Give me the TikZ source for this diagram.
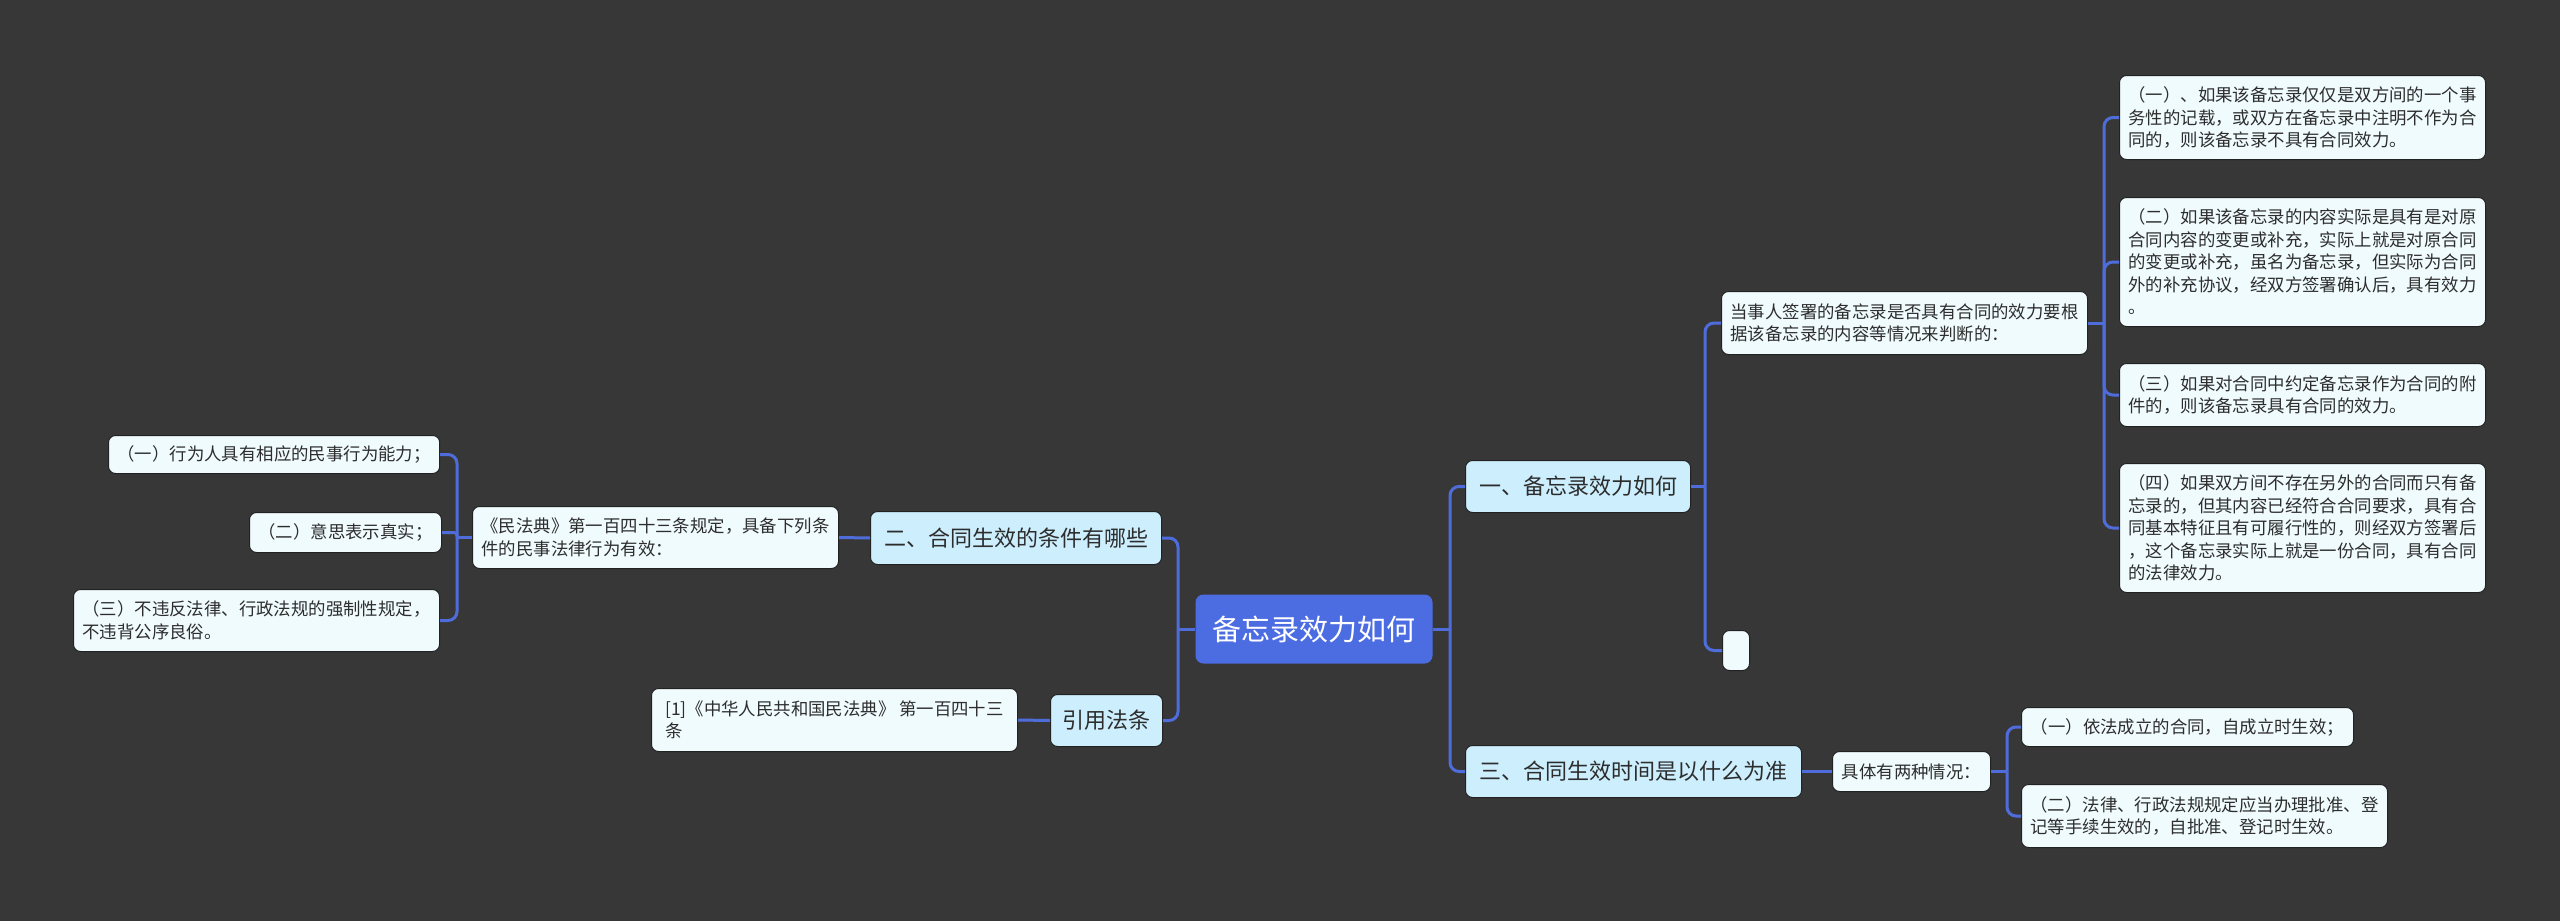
\documentclass[tikz,border=0pt]{standalone}
\usepackage{fontspec}
\setmainfont{Noto Sans CJK SC}
\definecolor{bg}{RGB}{56,55,56}
\definecolor{rootfill}{RGB}{76,108,226}
\definecolor{subfill}{RGB}{204,238,253}
\definecolor{leaffill}{RGB}{240,251,254}
\definecolor{linec}{RGB}{78,108,218}
\definecolor{edgec}{RGB}{34,34,34}
\definecolor{txt}{RGB}{45,45,45}
\tikzset{
  box/.style={draw=edgec, line width=1pt, rounded corners=7pt, inner xsep=9pt, inner ysep=0pt,
    anchor=north west, align=left, text=txt, font=\fontsize{17.4}{22.5}\selectfont},
  leaf/.style={box, fill=leaffill},
  sub/.style={box, fill=subfill, inner xsep=12pt, font=\fontsize{22}{28}\selectfont},
  rootbox/.style={box, fill=rootfill, draw=none, rounded corners=8pt, text=white, font=\fontsize{29}{34}\selectfont},
  conn/.style={draw=linec, line width=3pt},
  elbow/.style={conn, rounded corners=9pt},
}
\begin{document}
\begin{tikzpicture}[x=1pt,y=-1pt]
\fill[bg] (0,0) rectangle (2560,921);
\useasboundingbox (0,0) rectangle (2560,921);

% main nodes
\node[rootbox, minimum width=237pt, minimum height=69pt] (root) at (1195,594) {备忘录效力如何};
\node[sub, minimum width=225pt, minimum height=52pt] (a) at (1465,460) {一、备忘录效力如何};
\node[sub, minimum width=336pt, minimum height=52pt] (c) at (1465,745) {三、合同生效时间是以什么为准};
\node[sub, minimum width=291pt, minimum height=53pt] (b) at (870,511) {二、合同生效的条件有哪些};
\node[sub, minimum width=111pt, minimum height=52pt] (r) at (1050,694) {引用法条};

% branch one
\node[leaf, minimum width=366pt, minimum height=63pt] (a1) at (1721,291) {当事人签署的备忘录是否具有合同的效力要根\\据该备忘录的内容等情况来判断的：};
\node[leaf, minimum width=27pt, minimum height=40pt] (a2) at (1722,630) {};
\node[leaf, minimum width=366pt, minimum height=84pt] (a11) at (2119,75) {（一）、如果该备忘录仅仅是双方间的一个事\\务性的记载，或双方在备忘录中注明不作为合\\同的，则该备忘录不具有合同效力。};
\node[leaf, minimum width=366pt, minimum height=129pt] (a12) at (2119,197) {（二）如果该备忘录的内容实际是具有是对原\\合同内容的变更或补充，实际上就是对原合同\\的变更或补充，虽名为备忘录，但实际为合同\\外的补充协议，经双方签署确认后，具有效力\\。};
\node[leaf, minimum width=366pt, minimum height=63pt] (a13) at (2119,363) {（三）如果对合同中约定备忘录作为合同的附\\件的，则该备忘录具有合同的效力。};
\node[leaf, minimum width=366pt, minimum height=129pt] (a14) at (2119,463) {（四）如果双方间不存在另外的合同而只有备\\忘录的，但其内容已经符合合同要求，具有合\\同基本特征且有可履行性的，则经双方签署后\\，这个备忘录实际上就是一份合同，具有合同\\的法律效力。};

% branch three
\node[leaf, minimum width=158pt, minimum height=40pt] (c1) at (1832,751) {具体有两种情况：};
\node[leaf, minimum width=332pt, minimum height=39pt] (c11) at (2021,707) {（一）依法成立的合同，自成立时生效；};
\node[leaf, minimum width=366pt, minimum height=63pt] (c12) at (2021,784) {（二）法律、行政法规规定应当办理批准、登\\记等手续生效的，自批准、登记时生效。};

% branch two
\node[leaf, minimum width=366pt, minimum height=62pt] (b1) at (472,506) {《民法典》第一百四十三条规定，具备下列条\\件的民事法律行为有效：};
\node[leaf, minimum width=331pt, minimum height=38pt] (b11) at (108,435) {（一）行为人具有相应的民事行为能力；};
\node[leaf, minimum width=190pt, minimum height=40pt] (b12) at (249,512) {（二）意思表示真实；};
\node[leaf, minimum width=366pt, minimum height=62pt] (b13) at (73,589) {（三）不违反法律、行政法规的强制性规定，\\不违背公序良俗。};

% citation
\node[leaf, minimum width=366pt, minimum height=63pt] (r1) at (651,688) {[1]《中华人民共和国民法典》 第一百四十三\\条};

% junctions
\coordinate (j1) at ([xshift=17pt]root.east);
\coordinate (j5) at ([xshift=-17pt]root.west);
\coordinate (j2) at ([xshift=14pt]a.east);
\coordinate (j3) at ([xshift=16pt]a1.east);
\coordinate (j4) at ([xshift=16pt]c1.east);
\coordinate (j6) at ([xshift=-15pt]b1.west);

% connectors
\draw[conn] (root.east) -- (j1);
\draw[elbow] (j1) |- (a.west);
\draw[elbow] (j1) |- (c.west);
\draw[conn] (root.west) -- (j5);
\draw[elbow] (j5) |- (b.east);
\draw[elbow] (j5) |- (r.east);

\draw[conn] (a.east) -- (j2);
\draw[elbow] (j2) |- (a1.west);
\draw[elbow] (j2) |- (a2.west);
\draw[conn] (a1.east) -- (j3);
\draw[elbow] (j3) |- (a11.west);
\draw[elbow] (j3) |- (a12.west);
\draw[elbow] (j3) |- (a13.west);
\draw[elbow] (j3) |- (a14.west);

\draw[conn] (c.east) -- (c1.west);
\draw[conn] (c1.east) -- (j4);
\draw[elbow] (j4) |- (c11.west);
\draw[elbow] (j4) |- (c12.west);

\draw[conn] (b.west) -- (b1.east);
\draw[conn] (b1.west) -- (j6);
\draw[elbow] (j6) |- (b11.east);
\draw[conn, rounded corners=3pt] (j6) |- (b12.east);
\draw[elbow] (j6) |- (b13.east);

\draw[conn] (r.west) -- (r1.east);
\end{tikzpicture}
\end{document}
